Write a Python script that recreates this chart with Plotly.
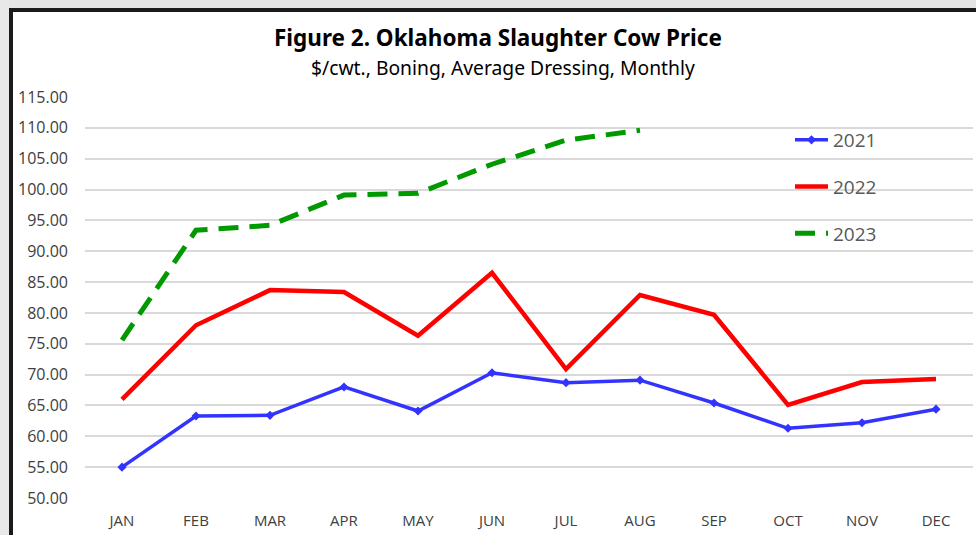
import plotly.graph_objects as go

months = ["JAN", "FEB", "MAR", "APR", "MAY", "JUN", "JUL", "AUG", "SEP", "OCT", "NOV", "DEC"]
y2021 = [55.0, 63.3, 63.4, 68.0, 64.1, 70.3, 68.7, 69.1, 65.4, 61.3, 62.2, 64.4]
y2022 = [66.0, 78.0, 83.7, 83.4, 76.3, 86.5, 70.9, 82.9, 79.7, 65.1, 68.8, 69.3]
y2023 = [75.6, 93.4, 94.2, 99.1, 99.4, 104.1, 108.0, 109.6]
months2023 = months[:len(y2023)]
yticks = [50, 55, 60, 65, 70, 75, 80, 85, 90, 95, 100, 105, 110, 115]

W, H = 976, 535
ML, MR, MT, MB = 85, 3, 97, 37
PW, PH = W - ML - MR, H - MT - MB

def px(x):
    return (x - ML) / PW

def py(y):
    return 1 - (y - MT) / PH

fig = go.Figure()
fig.add_trace(go.Scatter(x=months, y=y2021, name="2021", mode="lines+markers",
                         line=dict(color="#3333FF", width=3.5),
                         marker=dict(symbol="diamond", size=7, color="#3333FF"),
                         legendgroup="a"))
fig.add_trace(go.Scatter(x=months, y=y2022, name="2022", mode="lines",
                         line=dict(color="#FF0000", width=4.5),
                         legendgroup="b"))
fig.add_trace(go.Scatter(x=months2023, y=y2023, name="2023", mode="lines",
                         line=dict(color="#009900", width=5, dash="20px,11px"),
                         legendgroup="c"))

shapes = [
    dict(type="rect", xref="paper", yref="paper", x0=px(0), x1=px(W), y0=py(0), y1=py(8),
         fillcolor="#e4e4e4", line=dict(width=0), layer="above"),
    dict(type="rect", xref="paper", yref="paper", x0=px(0), x1=px(9), y0=py(0), y1=py(H),
         fillcolor="#e8e8e8", line=dict(width=0), layer="above"),
    dict(type="rect", xref="paper", yref="paper", x0=px(9), x1=px(W), y0=py(8), y1=py(12),
         fillcolor="#1a1a1a", line=dict(width=0), layer="above"),
    dict(type="rect", xref="paper", yref="paper", x0=px(9), x1=px(13), y0=py(8), y1=py(H),
         fillcolor="#1a1a1a", line=dict(width=0), layer="above"),
]

annotations = [
    dict(text="<b>Figure 2. Oklahoma Slaughter Cow Price</b>", xref="paper", yref="paper",
         x=px(498), y=py(37), showarrow=False, xanchor="center", yanchor="middle",
         font=dict(family="Noto Sans", size=22.5, color="#000000")),
    dict(text="$/cwt., Boning, Average Dressing, Monthly", xref="paper", yref="paper",
         x=px(503), y=py(67), showarrow=False, xanchor="center", yanchor="middle",
         font=dict(family="Noto Sans", size=19.3, color="#000000")),
]

fig.update_layout(
    width=W, height=H,
    margin=dict(l=ML, r=MR, t=MT, b=MB),
    paper_bgcolor="white", plot_bgcolor="white",
    shapes=shapes, annotations=annotations,
    showlegend=True,
    legend=dict(x=px(790), y=py(121), xanchor="left", yanchor="top",
                bgcolor="rgba(0,0,0,0)", font=dict(family="Open Sans", size=19, color="#595959"),
                tracegroupgap=19, itemwidth=33),
    xaxis=dict(range=[-0.5, 11.5], showgrid=False, showline=False, ticks="",
               tickfont=dict(family="Open Sans", size=15, color="#404040"),
               ticklabelstandoff=12),
    yaxis=dict(range=[50, 115], tickvals=yticks, tickformat=".2f", showgrid=True,
               gridcolor="#d9d9d9", gridwidth=1.5, zeroline=False, showline=False, ticks="",
               tickfont=dict(family="Open Sans", size=16, color="#404040"),
               ticklabelstandoff=16),
)

fig.write_html("out.html", config={"displayModeBar": False},
               post_script="document.body.style.margin='0px';")
